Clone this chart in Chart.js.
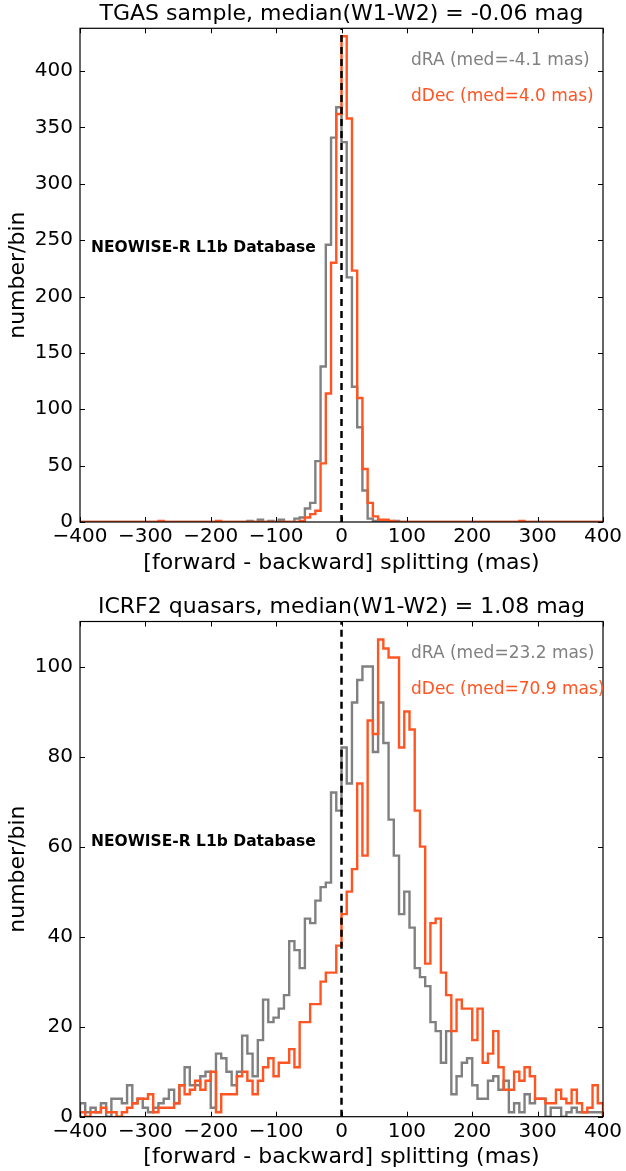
<!DOCTYPE html>
<html>
<head>
<meta charset="utf-8">
<title>forward - backward splitting histograms</title>
<script src="https://cdn.jsdelivr.net/npm/chart.js@4.4.1/dist/chart.umd.min.js"></script>
<style>
  html, body { margin: 0; padding: 0; background: #fff; }
  canvas { display: block; }
</style>
</head>
<body>
<canvas id="tgas" width="626" height="585"></canvas>
<canvas id="icrf" width="626" height="586"></canvas>
<script>
"use strict";

// histogram bins: 100 bins of 8 mas from -400 to 400
var X_MIN = -400;
var X_MAX = 400;
var BIN_WIDTH = 8;

var xTicks = [-400, -300, -200, -100, 0, 100, 200, 300, 400];
var yTicksTgas = [0, 50, 100, 150, 200, 250, 300, 350, 400];
var yTicksIcrf = [0, 20, 40, 60, 80, 100];

// TGAS sample, counts per bin (left to right)
var tgasRA = [
  0, 0, 0, 0, 0, 0, 0, 0, 0, 0,
  0, 0, 0, 0, 0, 0, 0, 0, 0, 0,
  0, 0, 0, 0, 0, 0, 0, 0, 0, 0,
  0, 0, 1, 0, 2, 0, 1, 0, 2, 0,
  0, 3, 4, 12, 17, 54, 138, 246, 341, 368,
  337, 217, 120, 84, 28, 3, 1, 1, 0, 0,
  1, 0, 0, 0, 0, 0, 0, 0, 0, 0,
  0, 0, 0, 0, 0, 0, 0, 0, 0, 0,
  0, 0, 0, 0, 0, 0, 0, 0, 0, 0,
  0, 0, 0, 0, 0, 0, 0, 0, 0, 0
];
var tgasDec = [
  0, 0, 0, 0, 0, 0, 0, 0, 0, 0,
  0, 0, 0, 0, 0, 1, 0, 0, 0, 0,
  0, 0, 0, 0, 0, 0, 1, 0, 0, 0,
  0, 0, 0, 0, 0, 0, 0, 0, 0, 0,
  0, 0, 1, 4, 7, 10, 52, 114, 230, 362,
  431, 358, 223, 110, 47, 17, 5, 2, 2, 1,
  0, 0, 0, 0, 0, 0, 0, 0, 0, 0,
  0, 0, 0, 0, 0, 0, 0, 0, 0, 0,
  0, 0, 0, 0, 1, 0, 0, 0, 0, 0,
  0, 0, 0, 0, 0, 0, 0, 0, 0, 0
];

// ICRF2 quasars, counts per bin (left to right)
var icrfRA = [
  3, 1, 2, 1, 3, 0, 4, 4, 3, 7,
  3, 4, 2, 1, 2, 3, 4, 6, 3, 7,
  11, 7, 7, 9, 10, 2, 14, 13, 10, 7,
  10, 18, 14, 9, 17, 26, 21, 22, 24, 27,
  39, 37, 33, 44, 43, 48, 51, 52, 72, 68,
  82, 74, 92, 97, 100, 100, 81, 92, 83, 66,
  58, 45, 50, 42, 33, 31, 29, 21, 19, 12,
  19, 5, 9, 12, 13, 7, 4, 4, 8, 9,
  6, 8, 1, 3, 1, 5, 3, 4, 4, 0,
  2, 2, 0, 1, 2, 1, 1, 1, 1, 1
];
var icrfDec = [
  1, 0, 1, 1, 2, 1, 1, 0, 1, 2,
  3, 4, 4, 5, 1, 2, 2, 2, 3, 7,
  5, 6, 8, 6, 8, 10, 1, 5, 5, 5,
  9, 10, 8, 5, 8, 11, 13, 9, 12, 12,
  15, 11, 21, 21, 25, 25, 30, 32, 32, 38,
  45, 50, 55, 74, 58, 88, 85, 106, 104, 102,
  102, 82, 90, 86, 68, 60, 34, 43, 44, 32,
  27, 19, 26, 24, 24, 17, 24, 12, 14, 19,
  11, 6, 6, 10, 8, 11, 9, 4, 4, 3,
  3, 6, 4, 3, 6, 3, 1, 2, 7, 3
];

var GRAY = '#808080';
var ORANGE = '#ff5522';
var FONT = '"DejaVu Sans", "Liberation Sans", sans-serif';
var TICK_LEN = 5;
var NOTE = 'NEOWISE-R L1b Database';

// outline of a step histogram, matplotlib histtype='step' style
function stepPoints(counts) {
  var pts = [{ x: X_MIN, y: 0 }];
  for (var i = 0; i < counts.length; i++) {
    var left = X_MIN + i * BIN_WIDTH;
    pts.push({ x: left, y: counts[i] });
    pts.push({ x: left + BIN_WIDTH, y: counts[i] });
  }
  pts.push({ x: X_MAX, y: 0 });
  return pts;
}

function fmtTick(v) {
  return v < 0 ? '\u2212' + Math.abs(v) : String(v);
}

// inward ticks on all four sides plus the box, like the classic mpl style
var frameTicks = {
  id: 'frameTicks',
  afterDatasetsDraw: function(chart) {
    var ctx = chart.ctx, a = chart.chartArea;
    var xs = chart.scales.x, ys = chart.scales.y;
    ctx.save();
    ctx.strokeStyle = '#000';
    ctx.lineWidth = 1;
    ctx.beginPath();
    xs.ticks.forEach(function(t) {
      var px = Math.round(xs.getPixelForValue(t.value)) + 0.5;
      ctx.moveTo(px, a.bottom); ctx.lineTo(px, a.bottom - TICK_LEN);
      ctx.moveTo(px, a.top); ctx.lineTo(px, a.top + TICK_LEN);
    });
    ys.ticks.forEach(function(t) {
      var py = Math.round(ys.getPixelForValue(t.value)) + 0.5;
      ctx.moveTo(a.left, py); ctx.lineTo(a.left + TICK_LEN, py);
      ctx.moveTo(a.right, py); ctx.lineTo(a.right - TICK_LEN, py);
    });
    ctx.stroke();
    ctx.lineWidth = 1.2;
    ctx.strokeRect(a.left, a.top, a.right - a.left, a.bottom - a.top);
    ctx.restore();
  }
};

var panelText = {
  id: 'panelText',
  afterDraw: function(chart, args, opts) {
    var ctx = chart.ctx, a = chart.chartArea;
    ctx.save();
    ctx.textBaseline = 'middle';
    ctx.textAlign = 'left';
    ctx.font = '17px ' + FONT;
    ctx.fillStyle = GRAY;
    ctx.fillText(opts.raLabel, a.left + 331, a.top + 32);
    ctx.fillStyle = ORANGE;
    ctx.fillText(opts.decLabel, a.left + 331, a.top + 68.5);
    ctx.font = 'bold 15.5px ' + FONT;
    ctx.fillStyle = '#000';
    ctx.fillText(NOTE, a.left + 11, a.top + 220);
    ctx.restore();
  }
};

function makePanel(canvasId, cfg) {
  return new Chart(document.getElementById(canvasId), {
    type: 'line',
    data: {
      datasets: [
        {
          label: 'zero',
          data: [{ x: 0, y: 0 }, { x: 0, y: cfg.yMax }],
          borderColor: '#000',
          borderWidth: 2.5,
          borderDash: [7, 5],
          pointRadius: 0
        },
        {
          label: 'dDec',
          data: stepPoints(cfg.dec),
          borderColor: ORANGE,
          borderWidth: 2.4,
          pointRadius: 0,
          tension: 0
        },
        {
          label: 'dRA',
          data: stepPoints(cfg.ra),
          borderColor: GRAY,
          borderWidth: 2.4,
          pointRadius: 0,
          tension: 0
        }
      ]
    },
    options: {
      responsive: false,
      animation: false,
      devicePixelRatio: 1,
      layout: { padding: { left: 0, right: 23, top: 0, bottom: 0 } },
      elements: { line: { borderJoinStyle: 'miter', borderCapStyle: 'butt' } },
      plugins: {
        legend: { display: false },
        tooltip: { enabled: false },
        title: {
          display: true,
          text: cfg.title,
          fullSize: false,
          color: '#000',
          font: { family: FONT, size: 22, weight: 'normal', lineHeight: 1 },
          padding: cfg.titlePad
        },
        panelText: { raLabel: cfg.raLabel, decLabel: cfg.decLabel }
      },
      scales: {
        x: {
          type: 'linear',
          min: X_MIN,
          max: X_MAX,
          afterBuildTicks: function(s) {
            s.ticks = xTicks.map(function(v) { return { value: v }; });
          },
          afterFit: function(s) { s.height = cfg.xAxisHeight; },
          ticks: {
            autoSkip: false,
            maxRotation: 0,
            padding: 3,
            color: '#000',
            font: { family: FONT, size: 20 },
            callback: function(v) { return fmtTick(v); }
          },
          grid: { display: false, drawTicks: false },
          border: { display: false },
          title: {
            display: true,
            text: '[forward - backward] splitting (mas)',
            color: '#000',
            font: { family: FONT, size: 22 },
            padding: { top: 0, bottom: cfg.xTitlePad }
          }
        },
        y: {
          type: 'linear',
          min: 0,
          max: cfg.yMax,
          afterBuildTicks: function(s) {
            s.ticks = cfg.yTicks.map(function(v) { return { value: v }; });
          },
          afterFit: function(s) { s.width = 80; },
          ticks: {
            autoSkip: false,
            padding: 7,
            color: '#000',
            font: { family: FONT, size: 20 },
            callback: function(v) { return fmtTick(v); }
          },
          grid: { display: false, drawTicks: false },
          border: { display: false },
          title: {
            display: true,
            text: 'number/bin',
            color: '#000',
            font: { family: FONT, size: 22 },
            padding: { top: 5, bottom: 0 }
          }
        }
      }
    },
    plugins: [frameTicks, panelText]
  });
}

makePanel('tgas', {
  title: 'TGAS sample, median(W1-W2) = -0.06 mag',
  titlePad: { top: 3, bottom: 3.3 },
  ra: tgasRA,
  dec: tgasDec,
  raLabel: 'dRA (med=-4.1 mas)',
  decLabel: 'dDec (med=4.0 mas)',
  yMax: 438,
  yTicks: yTicksTgas,
  xAxisHeight: 63,
  xTitlePad: 9
});

makePanel('icrf', {
  title: 'ICRF2 quasars, median(W1-W2) = 1.08 mag',
  titlePad: { top: 11, bottom: 3.5 },
  ra: icrfRA,
  dec: icrfDec,
  raLabel: 'dRA (med=23.2 mas)',
  decLabel: 'dDec (med=70.9 mas)',
  yMax: 110,
  yTicks: yTicksIcrf,
  xAxisHeight: 54.3,
  xTitlePad: 1
});
</script>
</body>
</html>
